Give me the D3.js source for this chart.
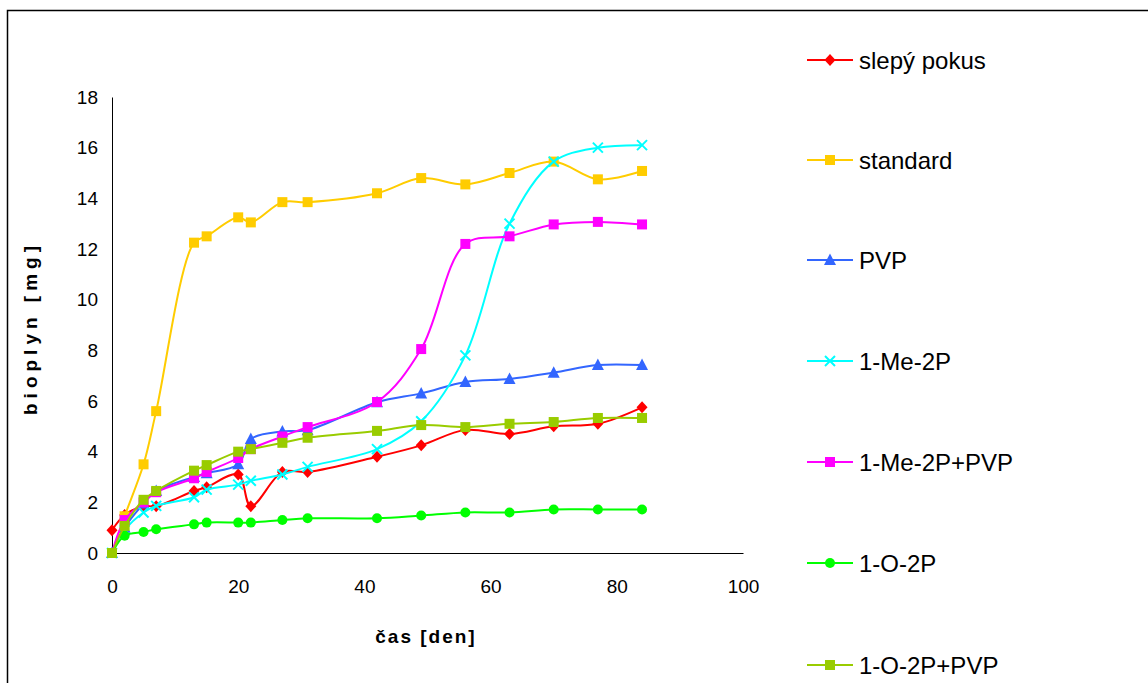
<!DOCTYPE html>
<html>
<head>
<meta charset="utf-8">
<script src="https://cdn.jsdelivr.net/npm/d3@7"></script>
<style>
  body { margin: 0; background: #fff; }
  svg { display: block; font-family: "Liberation Sans", Arial, sans-serif; }
</style>
</head>
<body>
<div id="chart"></div>
<script>
// days of measurement
const days = [0, 2, 5, 7, 13, 15, 20, 22, 27, 31, 42, 49, 56, 63, 70, 77, 84];

// series values
const slepyPokus = [0.9, 1.5, 1.85, 1.85, 2.45, 2.6, 3.1, 1.85, 3.2, 3.2, 3.8, 4.25, 4.86, 4.7, 5.0, 5.1, 5.75];
const standard   = [0, 1.45, 3.5, 5.6, 12.25, 12.5, 13.25, 13.05, 13.85, 13.85, 14.2, 14.8, 14.55, 15.0, 15.45, 14.75, 15.08];
const pvp        = [0, 1.0, 1.95, 2.45, 3.0, 3.15, 3.5, 4.5, 4.8, 4.85, 5.95, 6.3, 6.75, 6.87, 7.12, 7.42, 7.42];
const me2p       = [0, 0.9, 1.6, 1.86, 2.2, 2.5, 2.7, 2.85, 3.1, 3.4, 4.1, 5.2, 7.8, 13.0, 15.45, 16.0, 16.1];
const me2pPvp    = [0, 1.3, 2.0, 2.4, 2.95, 3.2, 3.75, 4.1, 4.6, 4.97, 5.96, 8.05, 12.2, 12.5, 12.97, 13.07, 12.97];
const o2p        = [0, 0.68, 0.83, 0.94, 1.13, 1.2, 1.2, 1.2, 1.3, 1.37, 1.37, 1.48, 1.6, 1.6, 1.72, 1.72, 1.72];
const o2pPvp     = [0, 1.07, 2.1, 2.45, 3.25, 3.47, 4.0, 4.1, 4.35, 4.55, 4.82, 5.05, 4.97, 5.1, 5.17, 5.33, 5.33];

const seriesNames = ["slepý pokus", "standard", "PVP", "1-Me-2P", "1-Me-2P+PVP", "1-O-2P", "1-O-2P+PVP"];
const seriesValues = [slepyPokus, standard, pvp, me2p, me2pPvp, o2p, o2pPvp];
const seriesColors = ["#ff0000", "#ffcc00", "#3366ff", "#00ffff", "#ff00ff", "#00ff00", "#99cc00"];
const seriesMarkers = ["diamond", "square", "triangle", "x", "square", "circle", "square"];

const xTicks = [0, 20, 40, 60, 80, 100];
const yTicks = [0, 2, 4, 6, 8, 10, 12, 14, 16, 18];

const W = 1148, H = 683;
const svg = d3.select("#chart").append("svg")
    .attr("width", W)
    .attr("height", H);

// outer frame (only left and top edges visible)
svg.append("rect")
    .attr("x", 7.5).attr("y", 10.5)
    .attr("width", W + 10).attr("height", H + 10)
    .attr("fill", "none")
    .attr("stroke", "#000")
    .attr("stroke-width", 1.5);

const x = d3.scaleLinear().domain([0, 100]).range([112, 743]);
const y = d3.scaleLinear().domain([0, 18]).range([553, 97]);

// axes
const xAxis = svg.append("g")
    .attr("transform", `translate(0,${y(0)})`)
    .call(d3.axisBottom(x).tickValues(xTicks).tickSize(0).tickPadding(27));
const yAxis = svg.append("g")
    .attr("transform", `translate(${x(0)},0)`)
    .call(d3.axisLeft(y).tickValues(yTicks).tickSize(0).tickPadding(14));

[xAxis, yAxis].forEach(g => {
    g.select(".domain").attr("stroke", "#000").attr("stroke-width", 1);
    g.selectAll("text")
        .attr("fill", "#000")
        .style("font-size", "19px")
        .style("font-family", "'Liberation Sans', Arial, sans-serif");
});

// axis titles
svg.append("text")
    .attr("x", 426).attr("y", 643)
    .attr("text-anchor", "middle")
    .style("font-size", "19px")
    .style("font-weight", "bold")
    .style("letter-spacing", "2px")
    .text("čas [den]");

svg.append("text")
    .attr("transform", "translate(37,328) rotate(-90)")
    .attr("text-anchor", "middle")
    .style("font-size", "19px")
    .style("font-weight", "bold")
    .style("letter-spacing", "5px")
    .text("bioplyn [mg]");

// smoothed lines
const line = d3.line()
    .x(d => x(d.day))
    .y(d => y(d.value))
    .curve(d3.curveCatmullRom.alpha(0.5));

function drawMarker(g, type, cx, cy, color) {
    if (type === "diamond") {
        g.append("path")
            .attr("d", `M${cx},${cy - 6}L${cx + 5.5},${cy}L${cx},${cy + 6}L${cx - 5.5},${cy}Z`)
            .attr("fill", color);
    } else if (type === "square") {
        g.append("rect")
            .attr("x", cx - 5).attr("y", cy - 5)
            .attr("width", 10).attr("height", 10)
            .attr("fill", color);
    } else if (type === "triangle") {
        g.append("path")
            .attr("d", `M${cx},${cy - 6.5}L${cx + 6},${cy + 5}L${cx - 6},${cy + 5}Z`)
            .attr("fill", color);
    } else if (type === "circle") {
        g.append("circle")
            .attr("cx", cx).attr("cy", cy).attr("r", 5)
            .attr("fill", color);
    } else if (type === "x") {
        g.append("path")
            .attr("d", `M${cx - 5},${cy - 5}L${cx + 5},${cy + 5}M${cx - 5},${cy + 5}L${cx + 5},${cy - 5}`)
            .attr("stroke", color)
            .attr("stroke-width", 2);
    }
}

seriesValues.forEach((vals, i) => {
    const data = days.map((d, j) => ({ day: d, value: vals[j] }));
    const g = svg.append("g");
    g.append("path")
        .datum(data)
        .attr("fill", "none")
        .attr("stroke", seriesColors[i])
        .attr("stroke-width", 2)
        .attr("d", line);
    data.forEach(d => drawMarker(g, seriesMarkers[i], x(d.day), y(d.value), seriesColors[i]));
});

// legend
const legendY = [60, 160, 260, 361, 462, 563, 665];
seriesNames.forEach((name, i) => {
    const g = svg.append("g").attr("transform", `translate(807,${legendY[i]})`);
    g.append("line")
        .attr("x1", 0).attr("x2", 46)
        .attr("y1", 0).attr("y2", 0)
        .attr("stroke", seriesColors[i])
        .attr("stroke-width", 2);
    drawMarker(g, seriesMarkers[i], 23, 0, seriesColors[i]);
    g.append("text")
        .attr("x", 52).attr("y", 9)
        .style("font-size", "24px")
        .attr("fill", "#000")
        .text(name);
});
</script>
</body>
</html>
